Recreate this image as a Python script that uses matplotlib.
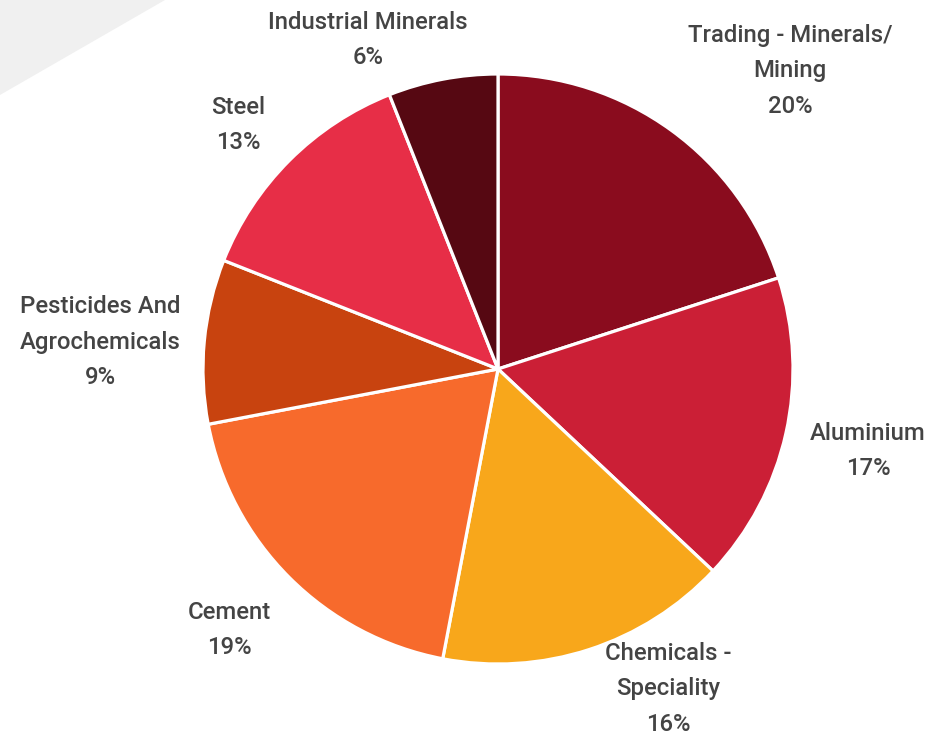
import matplotlib.pyplot as plt
from matplotlib.patches import Polygon

# sector split of the portfolio
sectors = ['Trading - Minerals/\nMining', 'Aluminium', 'Chemicals -\nSpeciality',
           'Cement', 'Pesticides And\nAgrochemicals', 'Steel', 'Industrial Minerals']
shares = [20, 17, 16, 19, 9, 13, 6]
colors = ['#8a0c1e', '#cb1f36', '#f8a71b', '#f76a2c', '#c8430f', '#e72e47', '#560812']

# label anchor points (pixels, origin bottom-left)
label_xy = [(790, 667), (868, 287), (668, 49), (229, 108),
            (100, 396), (238, 613), (368, 698)]

W, H = 942, 738
fig = plt.figure(figsize=(W / 100, H / 100), dpi=100)
ax = fig.add_axes([0, 0, 1, 1])

# light grey corner band
ax.add_patch(Polygon([(0, H), (165, H), (0, H - 95)], closed=True,
                     facecolor='#f0f0f0', edgecolor='none', zorder=0))

ax.pie(shares, colors=colors, startangle=90, counterclock=False,
       center=(498, 369), radius=295, frame=True,
       wedgeprops={'edgecolor': 'white', 'linewidth': 2.3})
ax.set_xlim(0, W)
ax.set_ylim(0, H)
ax.set_aspect('equal')
ax.axis('off')

for name, pct, (x, y) in zip(sectors, shares, label_xy):
    ax.text(x, y, f'{name}\n{pct}%', ha='center', va='center',
            fontsize=17.2, color='#444444', family='Roboto', weight='medium',
            linespacing=1.72)

fig.savefig('out.png', dpi=100)
